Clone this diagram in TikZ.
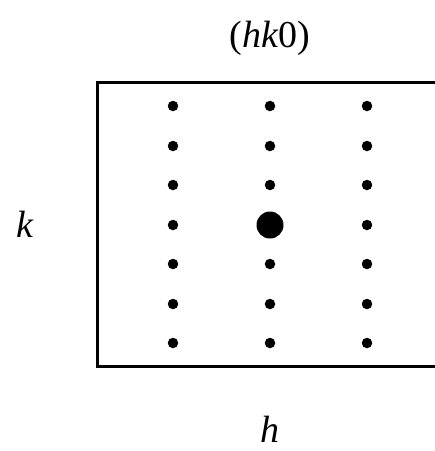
\documentclass[tikz,border=0pt]{standalone}
\usepackage{fontspec}
\setmainfont{Liberation Serif}
\begin{document}
\begin{tikzpicture}[x=1pt,y=-1pt,
  lbl/.style={font=\fontsize{38}{40}\selectfont, inner sep=0pt},
  spot/.style={circle, fill=black, inner sep=0pt, minimum size=10.5pt},
  bigspot/.style={circle, fill=black, inner sep=0pt, minimum size=27pt}]
\useasboundingbox (0,0) rectangle (435,451);
\draw[line width=3pt] (440,82.5) -- (97,82.5) -- (97,366.5) -- (440,366.5);
\foreach \c [count=\i] in {173,270,367}{
  \foreach \r [count=\j] in {106,146,185,225,264,304,343}{
    \node[spot] (d\i\j) at (\c,\r) {};
  }
}
\node[bigspot] (origin) at (270,225) {};
\node[lbl] (title) at (270,38) {(\textit{hk}0)};
\node[lbl] (klabel) at (25,224) {\textit{k}};
\node[lbl] (hlabel) at (270,429) {\textit{h}};
\end{tikzpicture}
\end{document}
